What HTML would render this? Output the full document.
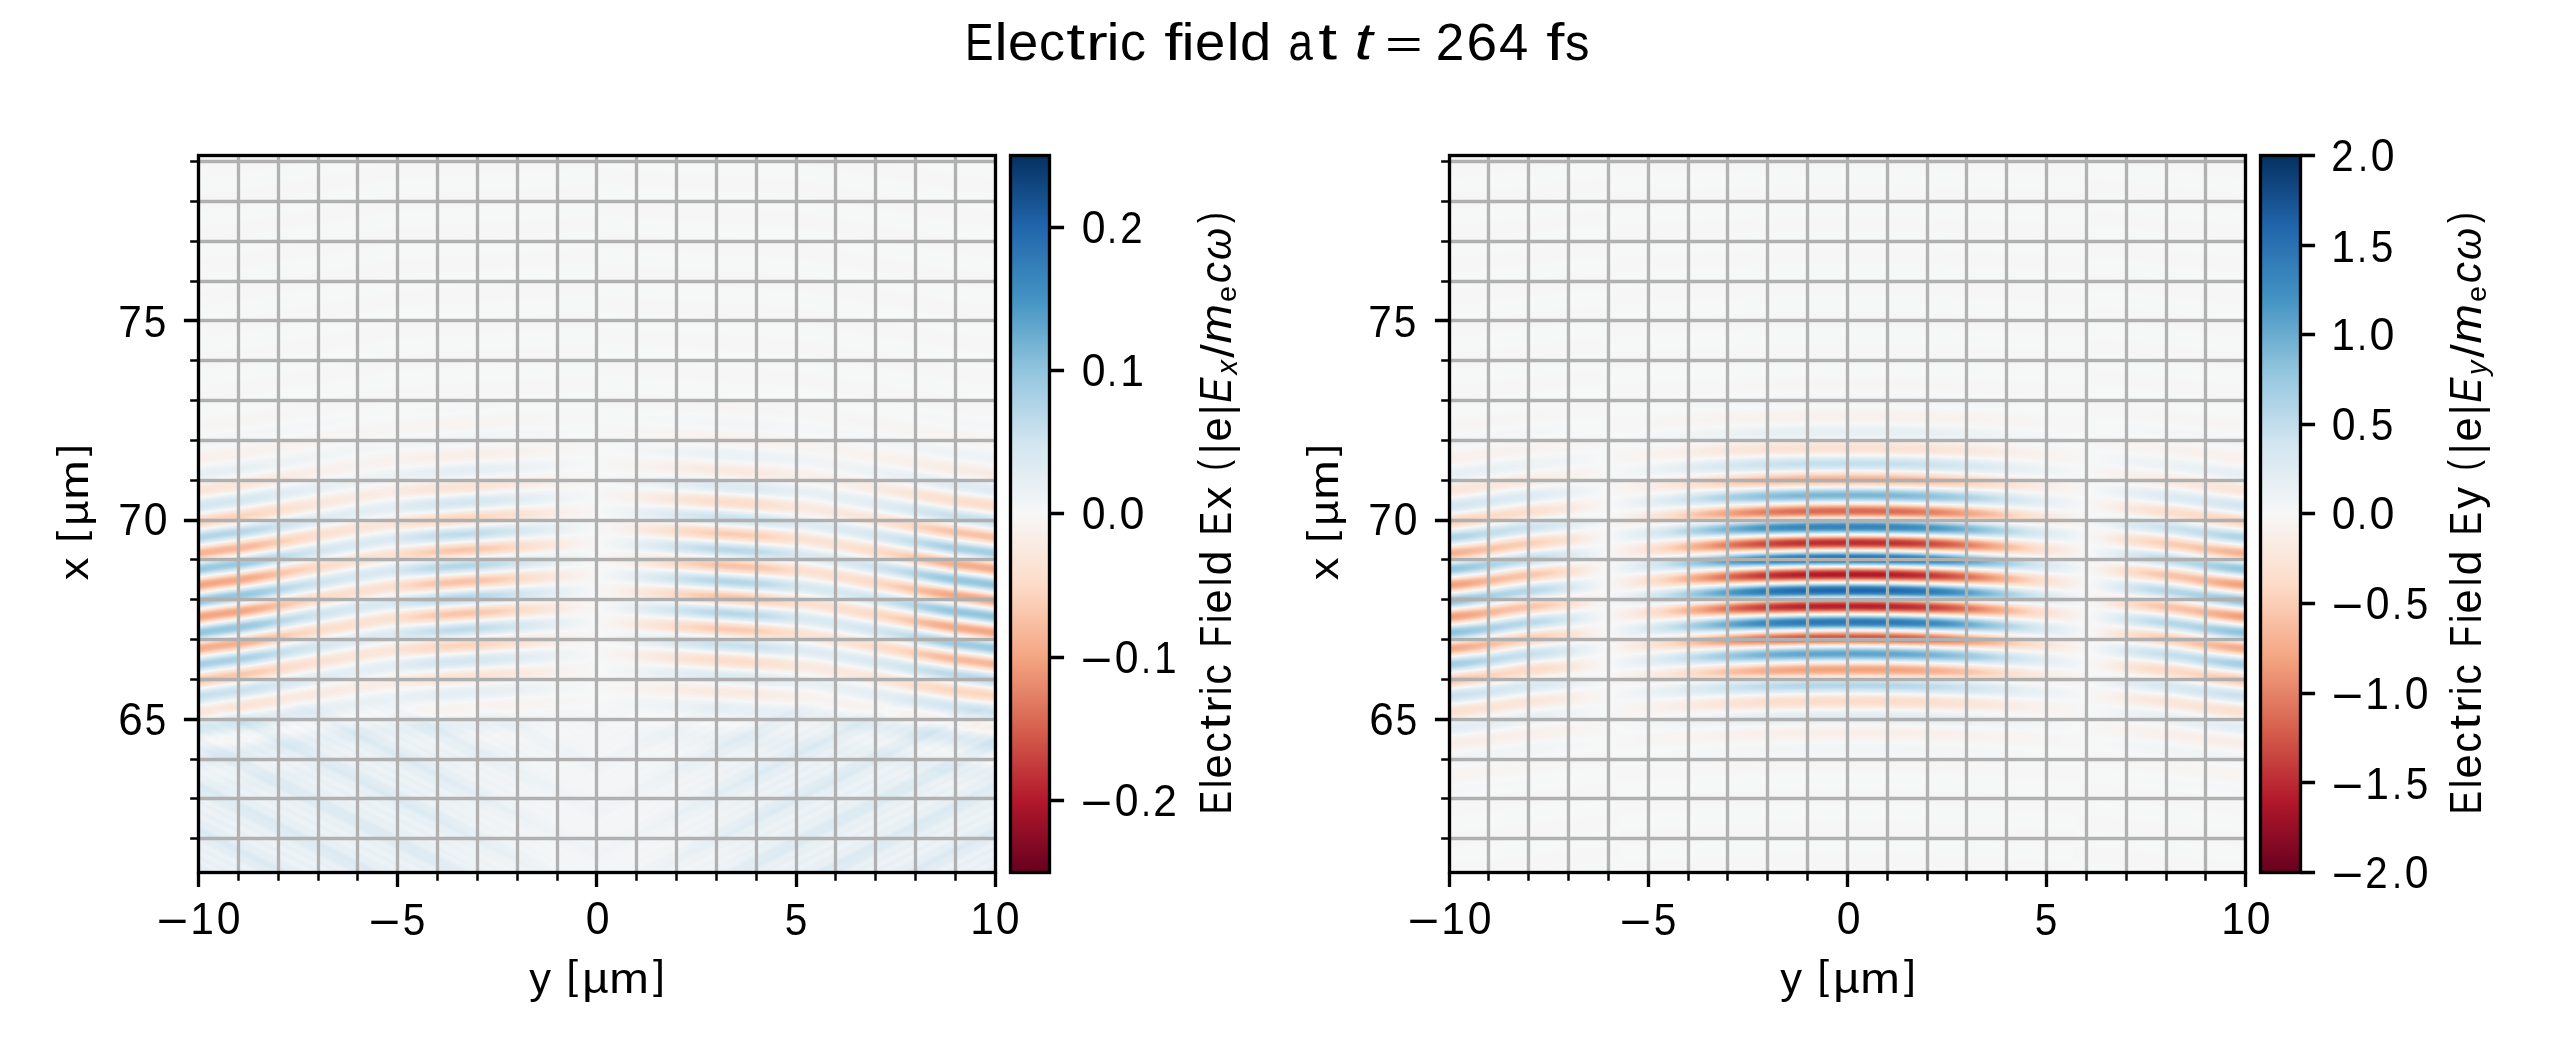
<!DOCTYPE html>
<html><head><meta charset="utf-8"><title>Electric field at t = 264 fs</title>
<style>
html,body{margin:0;padding:0;background:#fff;width:2550px;height:1050px;overflow:hidden}
.bg{position:absolute;top:155px;height:717px;background:#f6f6f7}
canvas,svg{position:absolute;left:0;top:0;display:block}
</style></head><body>
<div class="bg" style="left:198px;width:797px"></div><div class="bg" style="left:1449px;width:797px"></div>
<canvas id="c" width="2550" height="1050"></canvas>
<svg width="2550" height="1050" viewBox="0 0 2550 1050">
<defs><linearGradient id="g" x1="0" y1="1" x2="0" y2="0"><stop offset="0.0" stop-color="#67001f"/><stop offset="0.1" stop-color="#b2182b"/><stop offset="0.2" stop-color="#d6604d"/><stop offset="0.3" stop-color="#f4a582"/><stop offset="0.4" stop-color="#fddbc7"/><stop offset="0.5" stop-color="#f7f7f7"/><stop offset="0.6" stop-color="#d1e5f0"/><stop offset="0.7" stop-color="#92c5de"/><stop offset="0.8" stop-color="#4393c3"/><stop offset="0.9" stop-color="#2166ac"/><stop offset="1.0" stop-color="#053061"/></linearGradient></defs>
<path d="M238.5 155.5V872.5M278.5 155.5V872.5M318.5 155.5V872.5M357.5 155.5V872.5M397.5 155.5V872.5M437.5 155.5V872.5M477.5 155.5V872.5M517.5 155.5V872.5M557.5 155.5V872.5M596.5 155.5V872.5M636.5 155.5V872.5M676.5 155.5V872.5M716.5 155.5V872.5M756.5 155.5V872.5M796.5 155.5V872.5M835.5 155.5V872.5M875.5 155.5V872.5M915.5 155.5V872.5M955.5 155.5V872.5M198.5 161.5H995.5M198.5 201.5H995.5M198.5 241.5H995.5M198.5 281.5H995.5M198.5 320.5H995.5M198.5 360.5H995.5M198.5 400.5H995.5M198.5 440.5H995.5M198.5 480.5H995.5M198.5 520.5H995.5M198.5 559.5H995.5M198.5 599.5H995.5M198.5 639.5H995.5M198.5 679.5H995.5M198.5 719.5H995.5M198.5 759.5H995.5M198.5 798.5H995.5M198.5 838.5H995.5" stroke="#b0b0b0" stroke-width="3.333" fill="none"/>
<path d="M198.5 872.5v14.583M397.5 872.5v14.583M596.5 872.5v14.583M796.5 872.5v14.583M995.5 872.5v14.583M198.5 320.5h-14.583M198.5 520.5h-14.583M198.5 719.5h-14.583M1049.5 227.5h14.583M1049.5 370.5h14.583M1049.5 513.5h14.583M1049.5 657.5h14.583M1049.5 800.5h14.583" stroke="#000" stroke-width="3.333" fill="none"/>
<path d="M238.5 872.5v8.333M278.5 872.5v8.333M318.5 872.5v8.333M357.5 872.5v8.333M437.5 872.5v8.333M477.5 872.5v8.333M517.5 872.5v8.333M557.5 872.5v8.333M636.5 872.5v8.333M676.5 872.5v8.333M716.5 872.5v8.333M756.5 872.5v8.333M835.5 872.5v8.333M875.5 872.5v8.333M915.5 872.5v8.333M955.5 872.5v8.333M198.5 161.5h-8.333M198.5 201.5h-8.333M198.5 241.5h-8.333M198.5 281.5h-8.333M198.5 360.5h-8.333M198.5 400.5h-8.333M198.5 440.5h-8.333M198.5 480.5h-8.333M198.5 559.5h-8.333M198.5 599.5h-8.333M198.5 639.5h-8.333M198.5 679.5h-8.333M198.5 759.5h-8.333M198.5 798.5h-8.333M198.5 838.5h-8.333" stroke="#000" stroke-width="2.5" fill="none"/>
<rect x="198.5" y="155.5" width="797" height="717" fill="none" stroke="#000" stroke-width="3.333"/>
<rect x="1010.5" y="155.5" width="39" height="717" fill="url(#g)" stroke="#000" stroke-width="3.333"/>
<path d="M1488.5 155.5V872.5M1528.5 155.5V872.5M1568.5 155.5V872.5M1608.5 155.5V872.5M1648.5 155.5V872.5M1688.5 155.5V872.5M1727.5 155.5V872.5M1767.5 155.5V872.5M1807.5 155.5V872.5M1847.5 155.5V872.5M1887.5 155.5V872.5M1927.5 155.5V872.5M1966.5 155.5V872.5M2006.5 155.5V872.5M2046.5 155.5V872.5M2086.5 155.5V872.5M2126.5 155.5V872.5M2166.5 155.5V872.5M2205.5 155.5V872.5M1449.5 161.5H2245.5M1449.5 201.5H2245.5M1449.5 241.5H2245.5M1449.5 281.5H2245.5M1449.5 320.5H2245.5M1449.5 360.5H2245.5M1449.5 400.5H2245.5M1449.5 440.5H2245.5M1449.5 480.5H2245.5M1449.5 520.5H2245.5M1449.5 559.5H2245.5M1449.5 599.5H2245.5M1449.5 639.5H2245.5M1449.5 679.5H2245.5M1449.5 719.5H2245.5M1449.5 759.5H2245.5M1449.5 798.5H2245.5M1449.5 838.5H2245.5" stroke="#b0b0b0" stroke-width="3.333" fill="none"/>
<path d="M1449.5 872.5v14.583M1648.5 872.5v14.583M1847.5 872.5v14.583M2046.5 872.5v14.583M2245.5 872.5v14.583M1449.5 320.5h-14.583M1449.5 520.5h-14.583M1449.5 719.5h-14.583M2300.5 155.5h14.583M2300.5 245.5h14.583M2300.5 334.5h14.583M2300.5 424.5h14.583M2300.5 513.5h14.583M2300.5 603.5h14.583M2300.5 693.5h14.583M2300.5 782.5h14.583M2300.5 872.5h14.583" stroke="#000" stroke-width="3.333" fill="none"/>
<path d="M1488.5 872.5v8.333M1528.5 872.5v8.333M1568.5 872.5v8.333M1608.5 872.5v8.333M1688.5 872.5v8.333M1727.5 872.5v8.333M1767.5 872.5v8.333M1807.5 872.5v8.333M1887.5 872.5v8.333M1927.5 872.5v8.333M1966.5 872.5v8.333M2006.5 872.5v8.333M2086.5 872.5v8.333M2126.5 872.5v8.333M2166.5 872.5v8.333M2205.5 872.5v8.333M1449.5 161.5h-8.333M1449.5 201.5h-8.333M1449.5 241.5h-8.333M1449.5 281.5h-8.333M1449.5 360.5h-8.333M1449.5 400.5h-8.333M1449.5 440.5h-8.333M1449.5 480.5h-8.333M1449.5 559.5h-8.333M1449.5 599.5h-8.333M1449.5 639.5h-8.333M1449.5 679.5h-8.333M1449.5 759.5h-8.333M1449.5 798.5h-8.333M1449.5 838.5h-8.333" stroke="#000" stroke-width="2.5" fill="none"/>
<rect x="1449.5" y="155.5" width="796" height="717" fill="none" stroke="#000" stroke-width="3.333"/>
<rect x="2260.5" y="155.5" width="40" height="717" fill="url(#g)" stroke="#000" stroke-width="3.333"/>
<g font-family="'Liberation Sans', sans-serif" fill="#000"><text transform="translate(964.93,59.65) scale(0.8310,0.9944)" font-size="51.45">E</text><text transform="translate(994.52,59.65) scale(1.1446,1.0000)" font-size="51.45">l</text><text transform="translate(1007.9,60.14) scale(1.0575,1.0001)" font-size="51.45">e</text><text transform="translate(1039.02,60.14) scale(1.0080,1.0001)" font-size="51.45">c</text><text transform="translate(1066.33,59.13) scale(1.3187,1.0178)" font-size="51.45">t</text><text transform="translate(1086.11,59.65) scale(1.2673,0.9826)" font-size="51.45">r</text><text transform="translate(1106.52,59.65) scale(1.1446,1.0000)" font-size="51.45">i</text><text transform="translate(1120.02,60.14) scale(1.0080,1.0001)" font-size="51.45">c</text><text transform="translate(1164.37,59.65) scale(1.2689,1.0000)" font-size="51.45">f</text><text transform="translate(1181.52,59.65) scale(1.1446,1.0000)" font-size="51.45">i</text><text transform="translate(1194.9,60.14) scale(1.0575,1.0001)" font-size="51.45">e</text><text transform="translate(1226.52,59.65) scale(1.1446,1.0000)" font-size="51.45">l</text><text transform="translate(1240.1,60.13) scale(1.0928,1.0128)" font-size="51.45">d</text><text transform="translate(1288.38,60.14) scale(0.8499,1.0001)" font-size="51.45">a</text><text transform="translate(1318.33,59.13) scale(1.3187,1.0178)" font-size="51.45">t</text><text transform="translate(1354.41,59.13) scale(1.2689,1.0178)" font-size="51.45" font-style="italic">t</text><text transform="translate(1385.12,57.72) scale(1.2544,0.8079)" font-size="51.45">=</text><text transform="translate(1435.79,59.65) scale(0.9953,1.0079)" font-size="51.45">2</text><text transform="translate(1466.6,60.12) scale(1.0690,1.0211)" font-size="51.45">6</text><text transform="translate(1499.03,59.65) scale(1.0224,0.9944)" font-size="51.45">4</text><text transform="translate(1546.37,59.65) scale(1.2689,1.0000)" font-size="51.45">f</text><text transform="translate(1564.88,60.13) scale(0.9517,1.0093)" font-size="51.45">s</text><text transform="translate(156.64,936.79) scale(1.1920,1.0363)" font-size="45.49">−</text><text transform="translate(190.16,933.65) scale(0.9355,0.9653)" font-size="45.49">1</text><text transform="translate(216.64,934.2) scale(0.9394,1.0000)" font-size="45.49">0</text><text transform="translate(368.64,937.79) scale(1.2127,1.0543)" font-size="44.71">−</text><text transform="translate(402.72,935.2) scale(0.9087,1.0000)" font-size="44.71">5</text><text transform="translate(585.64,934.2) scale(0.9394,1.0000)" font-size="45.49">0</text><text transform="translate(784.72,935.2) scale(0.9087,1.0000)" font-size="44.71">5</text><text transform="translate(970.16,933.65) scale(0.9355,0.9653)" font-size="45.49">1</text><text transform="translate(995.64,934.2) scale(0.9394,1.0000)" font-size="45.49">0</text><text transform="translate(118.14,735.2) scale(0.9700,1.0000)" font-size="45.49">6</text><text transform="translate(144.81,735.2) scale(0.8469,0.9829)" font-size="45.49">5</text><text transform="translate(118.23,534.65) scale(0.9324,0.9653)" font-size="45.49">7</text><text transform="translate(143.64,535.2) scale(0.9394,1.0000)" font-size="45.49">0</text><text transform="translate(118.23,336.65) scale(0.9486,0.9821)" font-size="44.71">7</text><text transform="translate(143.72,337.2) scale(0.9087,1.0000)" font-size="44.71">5</text><text transform="translate(529.13,992.71) scale(1.0208,1.0000)" font-size="42.59">y</text><text transform="translate(566.45,989.27) scale(0.9745,0.9368)" font-size="42.59">[</text><text transform="translate(582.13,992.71) scale(1.0797,1.0000)" font-size="42.59">µ</text><text transform="translate(609.26,992.65) scale(1.1171,1.0132)" font-size="42.59">m</text><text transform="translate(652.92,989.27) scale(0.9995,0.9368)" font-size="42.59">]</text><text transform="translate(87.67,580.33) rotate(-90) scale(1.1843,1.0542)" font-size="38.27">x</text><text transform="translate(84.43,542.55) rotate(-90) scale(1.0845,1.0000)" font-size="38.27">[</text><text transform="translate(87.73,525.72) rotate(-90) scale(1.1476,1.0673)" font-size="38.27">µ</text><text transform="translate(87.67,499.74) rotate(-90) scale(1.2431,1.0811)" font-size="38.27">m</text><text transform="translate(84.43,456.08) rotate(-90) scale(1.1123,1.0000)" font-size="38.27">]</text><text transform="translate(1080.64,818.79) scale(1.1920,1.0363)" font-size="45.49">−</text><text transform="translate(1114.64,816.2) scale(0.9394,1.0000)" font-size="45.49">0</text><text transform="translate(1141.22,815.65) scale(0.7636,0.9002)" font-size="45.49">.</text><text transform="translate(1153.23,815.65) scale(0.9324,0.9829)" font-size="45.49">2</text><text transform="translate(1080.64,675.79) scale(1.1920,1.0363)" font-size="45.49">−</text><text transform="translate(1114.64,673.2) scale(0.9394,1.0000)" font-size="45.49">0</text><text transform="translate(1141.22,672.65) scale(0.7636,0.9002)" font-size="45.49">.</text><text transform="translate(1154.33,672.65) scale(0.8844,0.9653)" font-size="45.49">1</text><text transform="translate(1081.64,529.2) scale(0.9394,1.0000)" font-size="45.49">0</text><text transform="translate(1107.22,528.65) scale(0.7636,0.9002)" font-size="45.49">.</text><text transform="translate(1119.56,529.2) scale(0.9857,1.0000)" font-size="45.49">0</text><text transform="translate(1081.64,386.2) scale(0.9394,1.0000)" font-size="45.49">0</text><text transform="translate(1107.22,385.65) scale(0.7636,0.9002)" font-size="45.49">.</text><text transform="translate(1120.16,385.65) scale(0.9355,0.9653)" font-size="45.49">1</text><text transform="translate(1081.64,243.2) scale(0.9394,1.0000)" font-size="45.49">0</text><text transform="translate(1107.22,242.65) scale(0.7636,0.9002)" font-size="45.49">.</text><text transform="translate(1120.34,242.65) scale(0.8841,0.9829)" font-size="45.49">2</text><text transform="translate(1230.65,814.48) rotate(-90) scale(0.7949,0.9857)" font-size="44.55">E</text><text transform="translate(1230.65,788.03) rotate(-90) scale(0.8230,1.0000)" font-size="44.55">l</text><text transform="translate(1231.21,778.61) rotate(-90) scale(0.9799,0.9917)" font-size="44.55">e</text><text transform="translate(1231.21,752.46) rotate(-90) scale(0.9031,0.9917)" font-size="44.55">c</text><text transform="translate(1230.2,729.43) rotate(-90) scale(1.1707,1.0041)" font-size="44.55">t</text><text transform="translate(1230.65,712.85) rotate(-90) scale(1.1043,0.9685)" font-size="44.55">r</text><text transform="translate(1230.65,695.03) rotate(-90) scale(0.8230,1.0000)" font-size="44.55">i</text><text transform="translate(1231.21,684.46) rotate(-90) scale(0.9031,0.9917)" font-size="44.55">c</text><text transform="translate(1230.65,647.47) rotate(-90) scale(0.7925,0.9857)" font-size="44.55">F</text><text transform="translate(1230.65,623.03) rotate(-90) scale(0.8230,1.0000)" font-size="44.55">i</text><text transform="translate(1231.21,613.61) rotate(-90) scale(0.9799,0.9917)" font-size="44.55">e</text><text transform="translate(1230.65,586.03) rotate(-90) scale(0.8230,1.0000)" font-size="44.55">l</text><text transform="translate(1231.2,575.45) rotate(-90) scale(1.0126,1.0169)" font-size="44.55">d</text><text transform="translate(1230.65,535.48) rotate(-90) scale(0.7949,0.9857)" font-size="44.55">E</text><text transform="translate(1230.65,509.33) rotate(-90) scale(1.0172,0.9444)" font-size="44.55">x</text><text transform="translate(1227.27,470.53) rotate(-90) scale(0.7030,0.8954)" font-size="44.55">(</text><text transform="translate(1230.98,454.36) rotate(-90) scale(0.9259,1.0101)" font-size="44.55">|</text><text transform="translate(1231.21,441.61) rotate(-90) scale(0.9799,0.9917)" font-size="44.55">e</text><text transform="translate(1230.98,415.36) rotate(-90) scale(0.9259,1.0101)" font-size="44.55">|</text><text transform="translate(1230.65,402.78) rotate(-90) scale(0.8456,0.9857)" font-size="44.55" font-style="italic">E</text><text transform="translate(1236.65,374.5) rotate(-90) scale(0.6476,0.6480)" font-size="44.55" font-style="italic">x</text><text transform="translate(1234.18,357.65) rotate(-90) scale(1.0856,1.0475)" font-size="44.55">/</text><text transform="translate(1230.65,343.6) rotate(-90) scale(1.0651,0.9775)" font-size="44.55" font-style="italic">m</text><text transform="translate(1236.37,301.94) rotate(-90) scale(0.6420,0.6244)" font-size="44.55">e</text><text transform="translate(1231.21,283.13) rotate(-90) scale(0.9521,0.9917)" font-size="44.55" font-style="italic">c</text><text transform="translate(1231.23,260.09) rotate(-90) scale(0.9263,0.9509)" font-size="44.55" font-style="italic">ω</text><text transform="translate(1227.27,222.97) rotate(-90) scale(0.7165,0.8954)" font-size="44.55">)</text><text transform="translate(1407.64,936.79) scale(1.1920,1.0363)" font-size="45.49">−</text><text transform="translate(1441.16,933.65) scale(0.9355,0.9653)" font-size="45.49">1</text><text transform="translate(1467.64,934.2) scale(0.9394,1.0000)" font-size="45.49">0</text><text transform="translate(1619.64,937.79) scale(1.2127,1.0543)" font-size="44.71">−</text><text transform="translate(1653.72,935.2) scale(0.9087,1.0000)" font-size="44.71">5</text><text transform="translate(1836.64,934.2) scale(0.9394,1.0000)" font-size="45.49">0</text><text transform="translate(2034.72,935.2) scale(0.9087,1.0000)" font-size="44.71">5</text><text transform="translate(2221.16,933.65) scale(0.9355,0.9653)" font-size="45.49">1</text><text transform="translate(2246.64,934.2) scale(0.9394,1.0000)" font-size="45.49">0</text><text transform="translate(1369.14,735.2) scale(0.9700,1.0000)" font-size="45.49">6</text><text transform="translate(1395.81,735.2) scale(0.8469,0.9829)" font-size="45.49">5</text><text transform="translate(1368.23,534.65) scale(0.9324,0.9653)" font-size="45.49">7</text><text transform="translate(1393.64,535.2) scale(0.9394,1.0000)" font-size="45.49">0</text><text transform="translate(1368.23,336.65) scale(0.9486,0.9821)" font-size="44.71">7</text><text transform="translate(1393.72,337.2) scale(0.9087,1.0000)" font-size="44.71">5</text><text transform="translate(1780.13,992.71) scale(1.0208,1.0000)" font-size="42.59">y</text><text transform="translate(1817.44,989.27) scale(0.9745,0.9368)" font-size="42.59">[</text><text transform="translate(1833.13,992.71) scale(1.0797,1.0000)" font-size="42.59">µ</text><text transform="translate(1860.26,992.65) scale(1.1171,1.0132)" font-size="42.59">m</text><text transform="translate(1903.92,989.27) scale(0.9995,0.9368)" font-size="42.59">]</text><text transform="translate(1337.67,580.33) rotate(-90) scale(1.1843,1.0542)" font-size="38.27">x</text><text transform="translate(1334.43,542.55) rotate(-90) scale(1.0845,1.0000)" font-size="38.27">[</text><text transform="translate(1337.73,525.72) rotate(-90) scale(1.1476,1.0673)" font-size="38.27">µ</text><text transform="translate(1337.67,499.74) rotate(-90) scale(1.2431,1.0811)" font-size="38.27">m</text><text transform="translate(1334.43,456.08) rotate(-90) scale(1.1123,1.0000)" font-size="38.27">]</text><text transform="translate(2331.64,890.79) scale(1.1920,1.0363)" font-size="45.49">−</text><text transform="translate(2365.34,887.65) scale(0.8841,0.9829)" font-size="45.49">2</text><text transform="translate(2392.22,887.65) scale(0.7636,0.9002)" font-size="45.49">.</text><text transform="translate(2404.64,888.2) scale(0.9394,1.0000)" font-size="45.49">0</text><text transform="translate(2331.64,801.79) scale(1.2127,1.0543)" font-size="44.71">−</text><text transform="translate(2365.16,798.65) scale(0.9518,0.9821)" font-size="44.71">1</text><text transform="translate(2392.22,798.65) scale(0.7769,0.9159)" font-size="44.71">.</text><text transform="translate(2405.72,799.2) scale(0.9087,1.0000)" font-size="44.71">5</text><text transform="translate(2331.64,711.79) scale(1.1920,1.0363)" font-size="45.49">−</text><text transform="translate(2365.16,708.65) scale(0.9355,0.9653)" font-size="45.49">1</text><text transform="translate(2392.22,708.65) scale(0.7636,0.9002)" font-size="45.49">.</text><text transform="translate(2404.64,709.2) scale(0.9394,1.0000)" font-size="45.49">0</text><text transform="translate(2331.64,621.79) scale(1.1920,1.0363)" font-size="45.49">−</text><text transform="translate(2365.64,619.2) scale(0.9394,1.0000)" font-size="45.49">0</text><text transform="translate(2392.22,618.65) scale(0.7636,0.9002)" font-size="45.49">.</text><text transform="translate(2405.72,619.2) scale(0.8931,0.9829)" font-size="45.49">5</text><text transform="translate(2331.64,529.2) scale(0.9394,1.0000)" font-size="45.49">0</text><text transform="translate(2357.22,528.65) scale(0.7636,0.9002)" font-size="45.49">.</text><text transform="translate(2369.56,529.2) scale(0.9857,1.0000)" font-size="45.49">0</text><text transform="translate(2331.64,440.2) scale(0.9394,1.0000)" font-size="45.49">0</text><text transform="translate(2357.22,439.65) scale(0.7636,0.9002)" font-size="45.49">.</text><text transform="translate(2370.72,440.2) scale(0.8931,0.9829)" font-size="45.49">5</text><text transform="translate(2331.16,349.65) scale(0.9355,0.9653)" font-size="45.49">1</text><text transform="translate(2357.22,349.65) scale(0.7636,0.9002)" font-size="45.49">.</text><text transform="translate(2369.56,350.2) scale(0.9857,1.0000)" font-size="45.49">0</text><text transform="translate(2331.16,261.65) scale(0.9518,0.9821)" font-size="44.71">1</text><text transform="translate(2357.22,261.65) scale(0.7769,0.9159)" font-size="44.71">.</text><text transform="translate(2370.72,262.2) scale(0.9087,1.0000)" font-size="44.71">5</text><text transform="translate(2331.34,170.65) scale(0.8841,0.9829)" font-size="45.49">2</text><text transform="translate(2358.22,170.65) scale(0.7636,0.9002)" font-size="45.49">.</text><text transform="translate(2370.64,171.2) scale(0.9394,1.0000)" font-size="45.49">0</text><text transform="translate(2480.65,814.48) rotate(-90) scale(0.7949,0.9857)" font-size="44.55">E</text><text transform="translate(2480.65,788.03) rotate(-90) scale(0.8230,1.0000)" font-size="44.55">l</text><text transform="translate(2481.21,778.61) rotate(-90) scale(0.9799,0.9917)" font-size="44.55">e</text><text transform="translate(2481.21,752.46) rotate(-90) scale(0.9031,0.9917)" font-size="44.55">c</text><text transform="translate(2480.2,729.43) rotate(-90) scale(1.1707,1.0041)" font-size="44.55">t</text><text transform="translate(2480.65,712.85) rotate(-90) scale(1.1043,0.9685)" font-size="44.55">r</text><text transform="translate(2480.65,695.03) rotate(-90) scale(0.8230,1.0000)" font-size="44.55">i</text><text transform="translate(2481.21,684.46) rotate(-90) scale(0.9031,0.9917)" font-size="44.55">c</text><text transform="translate(2480.65,647.47) rotate(-90) scale(0.7925,0.9857)" font-size="44.55">F</text><text transform="translate(2480.65,623.03) rotate(-90) scale(0.8230,1.0000)" font-size="44.55">i</text><text transform="translate(2481.21,613.61) rotate(-90) scale(0.9799,0.9917)" font-size="44.55">e</text><text transform="translate(2480.65,586.03) rotate(-90) scale(0.8230,1.0000)" font-size="44.55">l</text><text transform="translate(2481.2,575.45) rotate(-90) scale(1.0126,1.0169)" font-size="44.55">d</text><text transform="translate(2480.65,535.48) rotate(-90) scale(0.7949,0.9857)" font-size="44.55">E</text><text transform="translate(2480.71,508.87) rotate(-90) scale(0.9757,0.9559)" font-size="44.55">y</text><text transform="translate(2477.27,470.53) rotate(-90) scale(0.7030,0.8954)" font-size="44.55">(</text><text transform="translate(2480.97,454.36) rotate(-90) scale(0.9259,1.0101)" font-size="44.55">|</text><text transform="translate(2481.21,441.61) rotate(-90) scale(0.9799,0.9917)" font-size="44.55">e</text><text transform="translate(2480.97,415.36) rotate(-90) scale(0.9259,1.0101)" font-size="44.55">|</text><text transform="translate(2480.65,402.78) rotate(-90) scale(0.8456,0.9857)" font-size="44.55" font-style="italic">E</text><text transform="translate(2486.56,375.06) rotate(-90) scale(0.6472,0.6505)" font-size="44.55" font-style="italic">y</text><text transform="translate(2484.18,357.65) rotate(-90) scale(1.0856,1.0475)" font-size="44.55">/</text><text transform="translate(2480.65,343.6) rotate(-90) scale(1.0651,0.9775)" font-size="44.55" font-style="italic">m</text><text transform="translate(2486.37,301.94) rotate(-90) scale(0.6420,0.6244)" font-size="44.55">e</text><text transform="translate(2481.21,283.13) rotate(-90) scale(0.9521,0.9917)" font-size="44.55" font-style="italic">c</text><text transform="translate(2481.23,260.09) rotate(-90) scale(0.9263,0.9509)" font-size="44.55" font-style="italic">ω</text><text transform="translate(2477.27,222.97) rotate(-90) scale(0.7165,0.8954)" font-size="44.55">)</text></g>
</svg>
<script>
(function(){
var cv=document.getElementById('c'), ctx=cv.getContext('2d');
var S=[[103,0,31],[178,24,43],[214,96,77],[244,165,130],[253,219,199],[247,247,247],[209,229,240],[146,197,222],[67,147,195],[33,102,172],[5,48,97]];
function draw(X0,X1,XC0,SC,vmax,idx){
  var Y0=155, Y1=872, w=X1-X0, h=Y1-Y0;
  var im=ctx.createImageData(w,h), d=im.data, p=0, out=[0,0];
  for(var j=0;j<h;j++){
    var xv = 79 - (Y0+j+0.5-161.5)/39.82;
    for(var i=0;i<w;i++){
      var yv = (X0+i+0.5-XC0)/SC;
      fld(xv,yv,out);
      var t = (out[idx]/vmax+1)/2;
      var q = Math.floor(t*256); if(q<0)q=0; if(q>255)q=255; t = q/255*10;
      var k=Math.floor(t); if(k>9)k=9; var fr=t-k, a=S[k], b=S[k+1];
      d[p++]=a[0]+(b[0]-a[0])*fr; d[p++]=a[1]+(b[1]-a[1])*fr; d[p++]=a[2]+(b[2]-a[2])*fr; d[p++]=255;
    }
  }
  ctx.putImageData(im,X0,Y0);
}
var K=2*Math.PI/0.8, R=75, XC=68.45, PH=68.63, RX=68;
function g(d,su,sl){ var s=d>0?su:sl; return Math.exp(-Math.pow(Math.abs(d)/s,2.5)); }
function sm(a,b,v){ var t=(v-a)/(b-a); if(t<0)t=0; if(t>1)t=1; return t*t*(3-2*t); }
function dsm(a,b,v){ var t=(v-a)/(b-a); if(t<=0||t>=1)return 0; return 6*t*(1-t)/(b-a); }
var WY=4.25, P=3, A0=1.6, AW=0.72, AI=0.12;
function fld(x,y,o){
  var ay=Math.abs(y), sg=y<0?-1:1;
  var s = x + y*y/(2*R);
  var ph = K*(s-PH), c=Math.cos(ph), sn=Math.sin(ph);
  var E = g(s-XC,2.75,2.6), Es = g(s-68.5,2.75,2.8);
  var u = Math.pow(ay/WY,P);
  var am = A0*Math.exp(-u);
  var dam = -am*P*u/(ay+1e-9)*sg;
  var aw = -AW*sm(5.2,9.0,ay), daw = -AW*dsm(5.2,9.0,ay)*sg;
  var T = am+aw, dT = dam+daw;
  var yi = 20-ay;
  var s2 = x + yi*yi/(2*R);
  var ph2 = K*(s2-PH), c2=Math.cos(ph2), sn2=Math.sin(ph2);
  var E2 = g(s2-XC,2.6,2.3);
  var ai = -AI*sm(6,10,ay), dai = -AI*dsm(6,10,ay)*sg;
  o[0] = -(am*E+aw*Es)*c - ai*E2*c2;
  var ex = (y/RX)*(am*E+aw*Es)*c + (dam*E+daw*Es)*sn/K - 0.25*(ai*E2*c2*yi*sg/R - dai*E2*sn2/K);
  var wk = sm(65.8,64.6,x)*(0.3+0.7*sm(0.5,5.0,ay));
  if(wk>0){
    var q = x - 0.5*ay;
    var st = 0.5+0.5*Math.cos(2*Math.PI*q/1.1);
    var st2 = 0.5+0.5*Math.cos(2*Math.PI*q/0.23+1.3);
    ex += wk*(0.014 + 0.018*st*st*st + 0.006*st2*st2);
  }
  o[1] = ex;
}
draw(198,996,597.0,39.85,0.25,1);
draw(1449,2247,1847.5,39.8,2.0,0);
})();

</script>
</body></html>
